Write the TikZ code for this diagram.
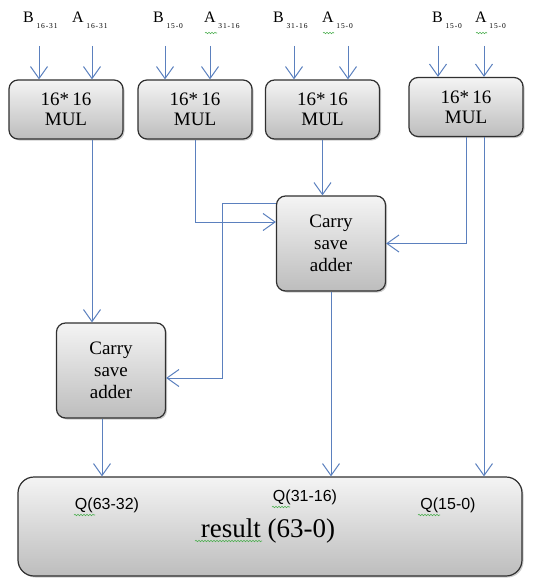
\documentclass[tikz,border=0pt]{standalone}
\usepackage{fontspec}
\setmainfont{Liberation Serif}
\newfontfamily\sansf{Liberation Sans}
\newfontfamily\subf[LetterSpace=12]{Liberation Serif}
\usetikzlibrary{arrows.meta,shadows,decorations.pathmorphing}

\definecolor{wirec}{HTML}{5B80BE}
\definecolor{boxedge}{HTML}{303030}
\definecolor{boxtop}{HTML}{F4F4F4}
\definecolor{boxbot}{HTML}{BDBDBD}
\definecolor{spell}{HTML}{4CAF50}

\newcommand\opnd[2]{#1\,\raisebox{-6pt}{\subf\fontsize{7.5}{8}\selectfont #2}}

\begin{document}
\begin{tikzpicture}[x=1pt,y=-1pt,
  blk/.style={draw=boxedge, line width=1.2pt, rounded corners=9pt,
    top color=boxtop, bottom color=boxbot, align=center, inner sep=0pt,
    drop shadow={shadow xshift=1.5pt, shadow yshift=-1.5pt, fill=black, opacity=0.2}},
  mulbox/.style={blk, minimum width=114pt, minimum height=59pt,
    font=\fontsize{19}{20}\selectfont},
  csabox/.style={blk, minimum width=109pt, minimum height=95pt,
    font=\fontsize{19}{22}\selectfont},
  resbox/.style={blk, rounded corners=16pt, minimum width=504pt, minimum height=99pt},
  wire/.style={draw=wirec, line width=1pt},
  arr/.style={wire, -{Straight Barb[length=12pt,width=17pt,line width=1pt]}},
  inlbl/.style={anchor=base west, inner sep=0pt, font=\fontsize{16}{16}\selectfont},
  qlbl/.style={anchor=base, inner sep=0pt, font=\sansf\fontsize{16}{16}\selectfont},
  squig/.style={draw=spell, line width=0.6pt, decorate,
    decoration={snake, amplitude=0.7pt, segment length=3pt}},
]
\useasboundingbox (0,0) rectangle (552,578);

% multiplier blocks
\node[mulbox] (m1) at (66,109.5)  {16*\,16\\MUL};
\node[mulbox] (m2) at (195,109.5) {16*\,16\\MUL};
\node[mulbox] (m3) at (322.5,109.5) {16*\,16\\MUL};
\node[mulbox] (m4) at (466,107)   {16*\,16\\MUL};

% carry save adders
\node[csabox] (c1) at (331,243.5) {Carry\\save\\adder};
\node[csabox] (c2) at (111,370.5) {Carry\\save\\adder};

% final result register
\node[resbox] (r) at (270,526.5) {};
\node[qlbl] (q1) at (107,509) {Q(63-32)};
\node[qlbl] (q2) at (305,501) {Q(31-16)};
\node[qlbl] (q3) at (448,509) {Q(15-0)};
\node[anchor=base, inner sep=0pt, font=\fontsize{27}{27}\selectfont] (rt) at (268,537) {result (63-0)};

% operand labels
\node[inlbl] (lb1) at (23,23)  {\opnd{B}{16-31}};
\node[inlbl] (la1) at (72,23)  {\opnd{A}{16-31}};
\node[inlbl] (lb2) at (153,23) {\opnd{B}{15-0}};
\node[inlbl] (la2) at (204,23) {\opnd{A}{31-16}};
\node[inlbl] (lb3) at (273,23) {\opnd{B}{31-16}};
\node[inlbl] (la3) at (322,23) {\opnd{A}{15-0}};
\node[inlbl] (lb4) at (432,23) {\opnd{B}{15-0}};
\node[inlbl] (la4) at (475,23) {\opnd{A}{15-0}};

% input arrow tails
\coordinate (ib1) at (39,46);
\coordinate (ia1) at (92,46);
\coordinate (ib2) at (165,46);
\coordinate (ia2) at (210,46);
\coordinate (ib3) at (294,46);
\coordinate (ia3) at (348,46);
\coordinate (ib4) at (438,46);
\coordinate (ia4) at (484,46);
\foreach \p/\m in {ib1/m1,ia1/m1,ib2/m2,ia2/m2,ib3/m3,ia3/m3,ib4/m4,ia4/m4}
  \draw[arr] (\p) -- (\p |- \m.north);

% partial products into the adders
\coordinate (o1) at ([xshift=26pt]m1.south);
\draw[arr] (o1) -- (o1 |- c2.north);
\draw[arr] (m2.south) |- ([yshift=21.5pt]c1.west);
\draw[arr] (m3.south) -- (m3.south |- c1.north);
\draw[arr] (m4.south) |- (c1.east);
\coordinate (o4) at ([xshift=18pt]m4.south);
\draw[arr] (o4) -- (o4 |- r.north);

% adder outputs
\coordinate (k) at (222,378);
\draw[arr] ([yshift=40.5pt]c1.west) -| (k) -- (c2.east |- k);
\draw[arr] (c1.south) -- (c1.south |- r.north);
\coordinate (o2) at ([xshift=-9pt]c2.south);
\draw[arr] (o2) -- (o2 |- r.north);

% spell-check underlines
\draw[squig] (205,33) -- (217,33);
\draw[squig] (323,33) -- (334,33);
\draw[squig] (476,33) -- (487,33);
\draw[squig] (74,515) -- (95,515);
\draw[squig] (272,507) -- (290,507);
\draw[squig] (418,515) -- (440,515);
\draw[squig] (195,541) -- (262,541);
\end{tikzpicture}
\end{document}
